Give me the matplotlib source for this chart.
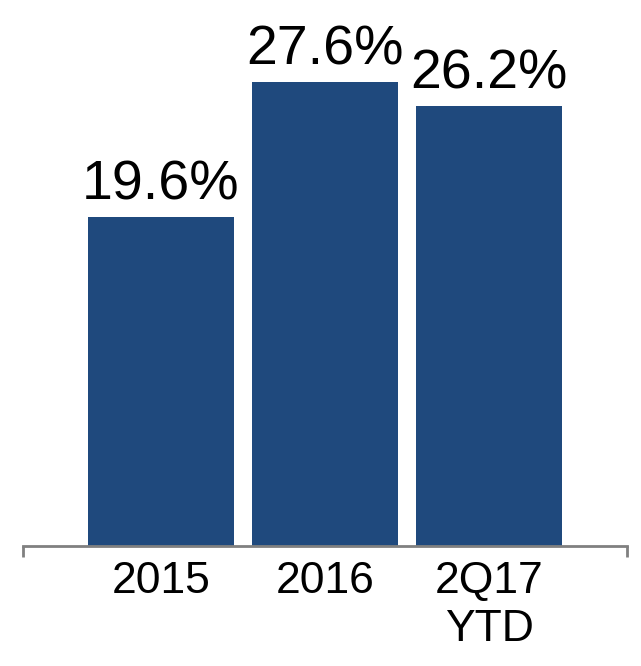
import matplotlib
matplotlib.use('Agg')
from matplotlib import pyplot as plt

# data
categories = ['2015', '2016', '2Q17\nYTD']
values = [19.6, 27.6, 26.2]
value_labels = ['19.6%', '27.6%', '26.2%']

bar_color = '#1F497D'
axis_color = '#808080'

plt.rcParams['font.family'] = ['Liberation Sans', 'DejaVu Sans']

fig = plt.figure(figsize=(6.41, 6.66), dpi=100)
ax = fig.add_axes([23 / 641, 120 / 666, 604 / 641, 546 / 666])

x = list(range(len(categories)))
bars = ax.bar(x, values, width=0.89, color=bar_color)
ax.bar_label(bars, labels=value_labels, padding=4, fontsize=40)

ax.set_xlim(-0.84, 2.84)
ax.set_ylim(0, 32.5)

ax.set_xticks(x)
ax.set_xticklabels(categories, fontsize=32, linespacing=1.2)
ax.tick_params(axis='x', which='major', length=0, pad=11)
ax.set_xticks([-0.84, 2.84], minor=True)
ax.tick_params(axis='x', which='minor', length=8, width=2, color=axis_color, direction='out')
ax.set_yticks([])

for side in ['top', 'right', 'left']:
    ax.spines[side].set_visible(False)
ax.spines['bottom'].set_color(axis_color)
ax.spines['bottom'].set_linewidth(2)

fig.savefig('out.png', dpi=100)
